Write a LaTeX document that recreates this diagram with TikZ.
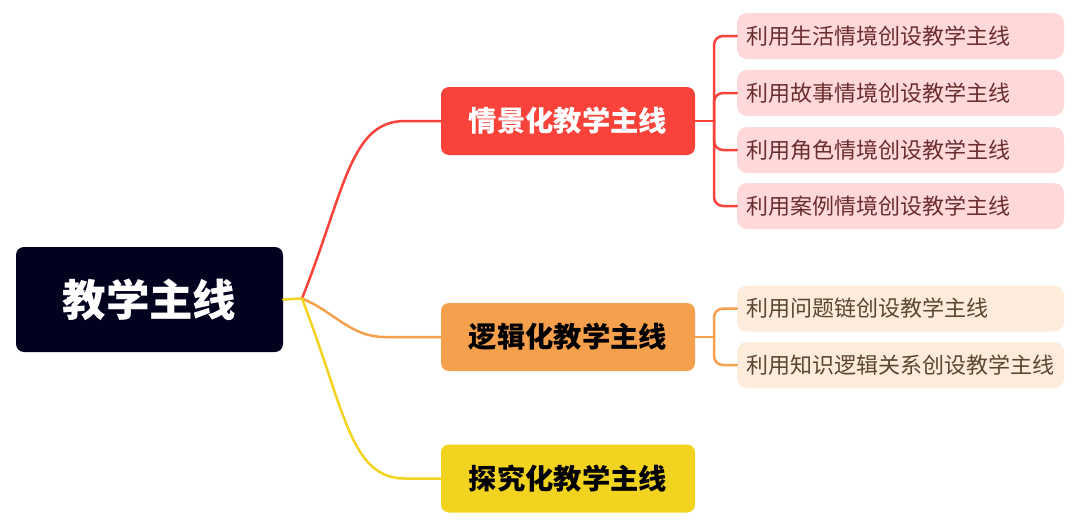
\documentclass[tikz,border=0pt]{standalone}
\usepackage{fontspec}
\newfontfamily\cjk{Noto Sans CJK SC}
\definecolor{rootfill}{HTML}{02021F}
\definecolor{cred}{HTML}{F8423A}
\definecolor{corange}{HTML}{F5A04C}
\definecolor{cyellow}{HTML}{F2D320}
\definecolor{leafred}{HTML}{FFD9D9}
\definecolor{leafredtext}{HTML}{6B2E2E}
\definecolor{leaforange}{HTML}{FDEBDC}
\definecolor{leaforangetext}{HTML}{5C4632}
\tikzset{
  rootbox/.style={fill=rootfill, rounded corners=8pt, minimum width=267pt, minimum height=105pt, inner sep=0pt, text=white, font=\cjk\bfseries\fontsize{43.5}{46}\selectfont},
  branchbox/.style={rounded corners=8pt, minimum width=254pt, minimum height=68pt, inner sep=0pt, font=\cjk\bfseries\fontsize{28.3}{31}\selectfont},
  leafbox/.style={rounded corners=10pt, minimum height=46pt, text width=309pt, inner xsep=9pt, inner ysep=0pt, align=left, font=\cjk\fontsize{22}{25}\selectfont},
  conn/.style={line width=2.5pt, line cap=round},
}
\begin{document}
\begin{tikzpicture}[x=1pt,y=-1pt]
\useasboundingbox (0,0) rectangle (1080,530);
% root
\node[rootbox] (root) at (149.5,299.5) {教学主线};
% branches
\node[branchbox, fill=cred, text=white] (b1) at (568,121) {情景化教学主线};
\node[branchbox, fill=corange, text=black] (b2) at (568,337) {逻辑化教学主线};
\node[branchbox, fill=cyellow, text=black] (b3) at (568,478.5) {探究化教学主线};
% leaves
\node[leafbox, fill=leafred, text=leafredtext] (l1) at (900.5,36) {利用生活情境创设教学主线};
\node[leafbox, fill=leafred, text=leafredtext] (l2) at (900.5,93) {利用故事情境创设教学主线};
\node[leafbox, fill=leafred, text=leafredtext] (l3) at (900.5,150) {利用角色情境创设教学主线};
\node[leafbox, fill=leafred, text=leafredtext] (l4) at (900.5,206) {利用案例情境创设教学主线};
\node[leafbox, fill=leaforange, text=leaforangetext] (l5) at (900.5,308.5) {利用问题链创设教学主线};
\node[leafbox, fill=leaforange, text=leaforangetext] (l6) at (900.5,365) {利用知识逻辑关系创设教学主线};
% junction
\coordinate (J) at (302,298.5);
\coordinate (t1) at (714,121);
\coordinate (t2) at (714,337);
% root to junction
\draw[conn, cyellow] (root.east) -- (J);
% junction to branches
\draw[conn, cred] (J) .. controls (345,190) and (350,121) .. (405,121) -- (b1.west);
\draw[conn, corange] (J) .. controls (335,312) and (350,337) .. (385,337) -- (b2.west);
\draw[conn, cyellow] (J) .. controls (345,410) and (350,478.5) .. (405,478.5) -- (b3.west);
% brackets
\draw[conn, cred] (b1.east) -- (t1);
\foreach \l in {l1,l2,l3,l4}{
  \draw[conn, cred, rounded corners=9pt] (t1) |- (\l.west);
}
\draw[conn, corange] (b2.east) -- (t2);
\foreach \l in {l5,l6}{
  \draw[conn, corange, rounded corners=9pt] (t2) |- (\l.west);
}
\end{tikzpicture}
\end{document}
